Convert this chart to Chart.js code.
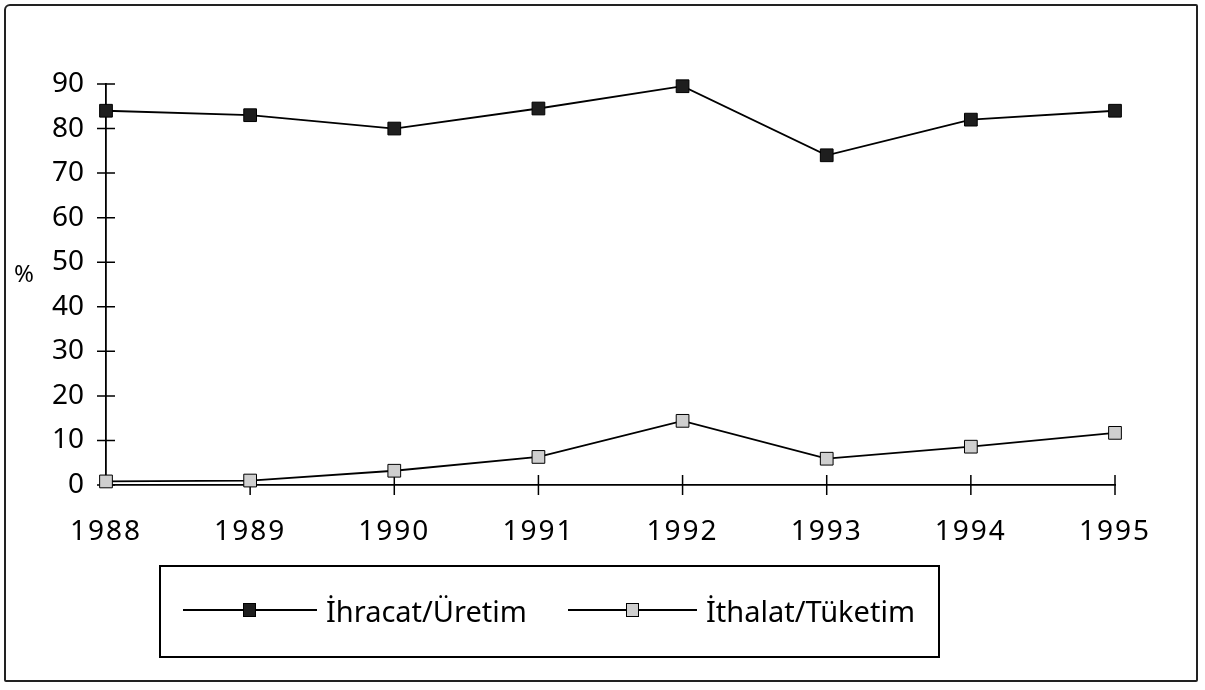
<!DOCTYPE html>
<html>
<head>
<meta charset="utf-8">
<script src="https://cdn.jsdelivr.net/npm/chart.js@4/dist/chart.umd.min.js"></script>
<style>
  html, body { margin: 0; padding: 0; background: #fff; }
  .wrap { position: relative; width: 1205px; height: 690px; }
  .frame { position: absolute; left: 4px; top: 4px; width: 1190px; height: 674px; border: 2px solid #222; border-radius: 6px 2px 2px 2px; }
  canvas { position: absolute; left: 0; top: 0; }
  .ylab { position: absolute; left: 14px; top: 256px; font: 24px "Noto Sans", sans-serif; color: #000; }
  .legend { position: absolute; left: 159px; top: 565px; width: 777px; height: 89px; border: 2px solid #000; font: 29px "Noto Sans", sans-serif; color: #000; }
  .legend-item { position: absolute; top: 0; height: 86px; display: flex; align-items: center; }
  .legend-line { position: relative; height: 2px; background: #000; margin-right: 9px; }
  .legend-dot { position: absolute; top: -6px; width: 11px; height: 12px; border: 1px solid #000; }
</style>
</head>
<body>
<div class="wrap">
  <div class="frame"></div>
  <canvas id="chart" width="1205" height="690"></canvas>
  <div class="ylab">%</div>
  <div class="legend"></div>
</div>
<script>
const years = ['1988', '1989', '1990', '1991', '1992', '1993', '1994', '1995'];
const exportShare = [84, 83, 80, 84.5, 89.5, 74, 82, 84];
const importShare = [0.8, 1, 3.2, 6.3, 14.4, 5.9, 8.6, 11.7];
const seriesNames = ['İhracat/Üretim', 'İthalat/Tüketim'];
const markerFill = ['#1e1e1e', '#cfcfcf'];

const tickFont = { family: 'Noto Sans', size: 28 };

// cross-shaped tick marks on both axes, like the original
const crossTicks = {
  id: 'crossTicks',
  beforeDraw(chart) {
    const xs = chart.scales.x;
    if (!xs._spaced) {
      const orig = xs.drawLabels;
      xs.drawLabels = function (area) {
        const c = this.ctx;
        c.save();
        c.letterSpacing = '2px';
        orig.call(this, area);
        c.restore();
      };
      xs._spaced = true;
    }
  },
  beforeDatasetsDraw(chart) {
    const { ctx, scales: { x, y } } = chart;
    const x0 = x.left, y0 = y.bottom;
    ctx.save();
    ctx.strokeStyle = '#000';
    ctx.lineWidth = 1.5;
    ctx.beginPath();
    y.ticks.forEach(t => {
      const py = y.getPixelForValue(t.value);
      ctx.moveTo(x0 - 9, py);
      ctx.lineTo(x0 + 9, py);
    });
    years.forEach((yr, i) => {
      if (i === 0) return;
      const px = x.getPixelForValue(i);
      ctx.moveTo(px, y0 - 10);
      ctx.lineTo(px, y0 + 10);
    });
    ctx.stroke();
    ctx.restore();
  }
};

new Chart(document.getElementById('chart'), {
  type: 'line',
  data: {
    labels: years,
    datasets: [
      {
        label: seriesNames[0],
        data: exportShare,
        borderColor: '#000', borderWidth: 1.8,
        pointStyle: 'rect', pointRadius: 9,
        pointBackgroundColor: markerFill[0], pointBorderColor: '#000', pointBorderWidth: 1,
        tension: 0, clip: false
      },
      {
        label: seriesNames[1],
        data: importShare,
        borderColor: '#000', borderWidth: 1.8,
        pointStyle: 'rect', pointRadius: 9,
        pointBackgroundColor: markerFill[1], pointBorderColor: '#000', pointBorderWidth: 1,
        tension: 0, clip: false
      }
    ]
  },
  options: {
    responsive: false,
    animation: false,
    layout: { padding: { left: 0, right: 90, top: 84, bottom: 0 } },
    plugins: {
      legend: { display: false },
      tooltip: { enabled: false }
    },
    scales: {
      x: {
        offset: false,
        grid: { display: false },
        border: { display: true, color: '#000', width: 1.8 },
        ticks: { font: tickFont, color: '#000', padding: 22, maxRotation: 0, autoSkip: false },
        afterFit: s => { s.height = 205; }
      },
      y: {
        min: 0, max: 90,
        grid: { display: false },
        border: { display: true, color: '#000', width: 1.8 },
        ticks: { stepSize: 10, font: tickFont, color: '#000', padding: 14 },
        afterFit: s => { s.width = 106; }
      }
    }
  },
  plugins: [crossTicks]
});

// legend box below the chart
const legendPos = [
  { left: 22, line: 134 },
  { left: 407, line: 129 }
];
document.querySelector('.legend').innerHTML = seriesNames.map((n, i) => `
  <div class="legend-item" style="left:${legendPos[i].left}px">
    <div class="legend-line" style="width:${legendPos[i].line}px">
      <div class="legend-dot" style="left:${Math.round(legendPos[i].line / 2) - 7}px;background:${markerFill[i]}"></div>
    </div>${n}
  </div>
`).join('');
</script>
</body>
</html>
